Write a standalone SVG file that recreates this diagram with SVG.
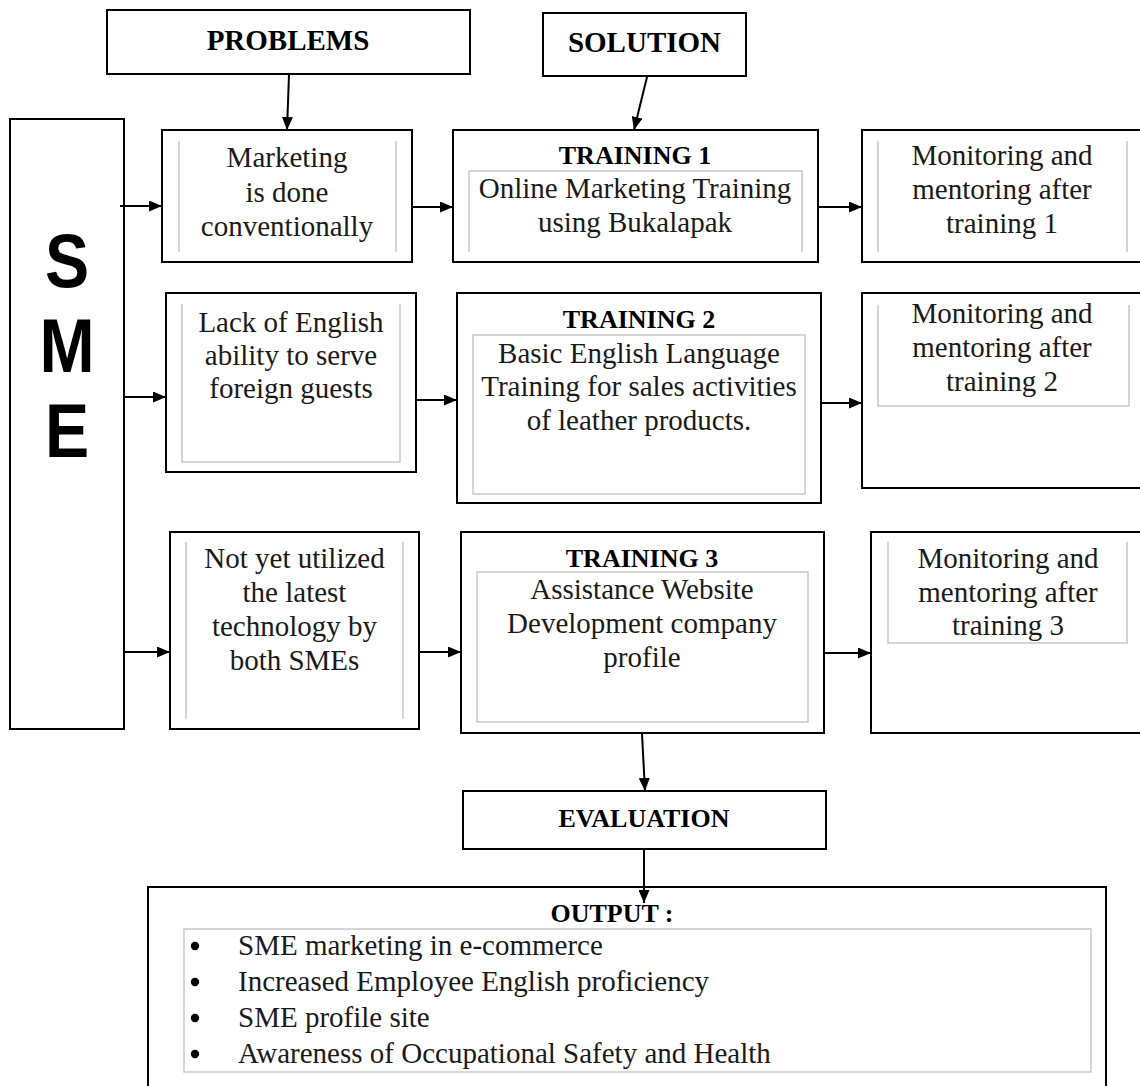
<svg xmlns="http://www.w3.org/2000/svg" width="1140" height="1086" viewBox="0 0 1140 1086">
<style>
.box{fill:#fff;stroke:#000;stroke-width:2}
.inner{fill:none;stroke:#c8c8c8;stroke-width:1.5}
.t{font-family:"Liberation Serif","Times New Roman",serif;font-size:29px;text-anchor:middle;fill:#1a1a1a}
.h{font-weight:bold;font-size:26px;fill:#000}
.hb{font-weight:bold;font-size:29px;fill:#000}
.li{text-anchor:start}
.dot{fill:#000}
.sme{font-family:"Liberation Sans",Arial,sans-serif;font-weight:bold;font-size:76px;text-anchor:middle;fill:#000}
.conn{stroke:#000;stroke-width:2;fill:none;marker-end:url(#arr)}
</style>
<defs>
<marker id="arr" markerUnits="userSpaceOnUse" markerWidth="13" markerHeight="11" refX="13" refY="5.5" orient="auto">
<path d="M0,0 L13,5.5 L0,11 z" fill="#000"/>
</marker>
</defs>
<rect width="1140" height="1086" fill="#fff"/>

<g id="problems">
<rect class="box" x="107" y="10" width="363" height="64"/>
<text class="t hb" x="288" y="50">PROBLEMS</text>
</g>
<g id="solution">
<rect class="box" x="543" y="13" width="203" height="63"/>
<text class="t hb" x="644.5" y="52">SOLUTION</text>
</g>

<g id="sme">
<rect class="box" x="10" y="119" width="114" height="610"/>
<text class="sme" transform="translate(67,287) scale(0.87,1)">S</text>
<text class="sme" transform="translate(67,372) scale(0.87,1)">M</text>
<text class="sme" transform="translate(67,457) scale(0.87,1)">E</text>
</g>

<g id="problem1">
<rect class="box" x="162" y="130" width="250" height="132"/>
<path class="inner" d="M179,141 V252 M396,141 V252"/>
<text class="t" x="287" y="167">Marketing</text>
<text class="t" x="287" y="202">is done</text>
<text class="t" x="287" y="236">conventionally</text>
</g>
<g id="training1">
<rect class="box" x="453" y="130" width="365" height="132"/>
<path class="inner" d="M469,252 V171 H802 V252"/>
<text class="t h" x="635" y="164">TRAINING 1</text>
<text class="t" x="635" y="198">Online Marketing Training</text>
<text class="t" x="635" y="232">using Bukalapak</text>
</g>
<g id="monitor1">
<rect class="box" x="862" y="130" width="290" height="132"/>
<path class="inner" d="M878,141 V252 M1127,141 V252"/>
<text class="t" x="1002" y="165">Monitoring and</text>
<text class="t" x="1002" y="199">mentoring after</text>
<text class="t" x="1002" y="233">training 1</text>
</g>

<g id="problem2">
<rect class="box" x="166" y="293" width="250" height="179"/>
<path class="inner" d="M182,304 V462 H400 V304"/>
<text class="t" x="291" y="332">Lack of English</text>
<text class="t" x="291" y="365">ability to serve</text>
<text class="t" x="291" y="398">foreign guests</text>
</g>
<g id="training2">
<rect class="box" x="457" y="293" width="364" height="210"/>
<rect class="inner" x="473" y="335" width="332" height="159"/>
<text class="t h" x="639" y="328">TRAINING 2</text>
<text class="t" x="639" y="363">Basic English Language</text>
<text class="t" x="639" y="396">Training for sales activities</text>
<text class="t" x="639" y="430">of leather products.</text>
</g>
<g id="monitor2">
<rect class="box" x="862" y="293" width="290" height="195"/>
<path class="inner" d="M878,305 V406 H1129 V305"/>
<text class="t" x="1002" y="323">Monitoring and</text>
<text class="t" x="1002" y="357">mentoring after</text>
<text class="t" x="1002" y="391">training 2</text>
</g>

<g id="problem3">
<rect class="box" x="170" y="532" width="249" height="197"/>
<path class="inner" d="M186,542 V719 M403,542 V719"/>
<text class="t" x="294.5" y="568">Not yet utilized</text>
<text class="t" x="294.5" y="602">the latest</text>
<text class="t" x="294.5" y="636">technology by</text>
<text class="t" x="294.5" y="670">both SMEs</text>
</g>
<g id="training3">
<rect class="box" x="461" y="532" width="363" height="201"/>
<rect class="inner" x="477" y="572" width="331" height="150"/>
<text class="t h" x="642" y="567">TRAINING 3</text>
<text class="t" x="642" y="599">Assistance Website</text>
<text class="t" x="642" y="633">Development company</text>
<text class="t" x="642" y="667">profile</text>
</g>
<g id="monitor3">
<rect class="box" x="871" y="532" width="281" height="201"/>
<path class="inner" d="M888,542 V643 H1127 V542"/>
<text class="t" x="1008" y="568">Monitoring and</text>
<text class="t" x="1008" y="602">mentoring after</text>
<text class="t" x="1008" y="635">training 3</text>
</g>

<g id="evaluation">
<rect class="box" x="463" y="791" width="363" height="58"/>
<text class="t h" x="644" y="827">EVALUATION</text>
</g>

<g id="output">
<rect class="box" x="148" y="887" width="958" height="210"/>
<rect class="inner" x="184" y="929" width="907" height="143"/>
<text class="t h" x="612" y="922">OUTPUT :</text>
<circle class="dot" cx="195" cy="946" r="4.2"/>
<text class="t li" x="238" y="955">SME marketing in e-commerce</text>
<circle class="dot" cx="195" cy="982" r="4.2"/>
<text class="t li" x="238" y="991">Increased Employee English proficiency</text>
<circle class="dot" cx="195" cy="1018" r="4.2"/>
<text class="t li" x="238" y="1027">SME profile site</text>
<circle class="dot" cx="195" cy="1054" r="4.2"/>
<text class="t li" x="238" y="1063">Awareness of Occupational Safety and Health</text>
</g>

<g id="connectors">
<line class="conn" x1="289" y1="75" x2="287" y2="130"/>
<line class="conn" x1="647" y1="77" x2="634" y2="130"/>
<line class="conn" x1="120" y1="206" x2="162" y2="206"/>
<line class="conn" x1="412" y1="207" x2="453" y2="207"/>
<line class="conn" x1="818" y1="207" x2="862" y2="207"/>
<line class="conn" x1="124" y1="397" x2="166" y2="397"/>
<line class="conn" x1="416" y1="400" x2="457" y2="400"/>
<line class="conn" x1="821" y1="403" x2="862" y2="403"/>
<line class="conn" x1="125" y1="652" x2="170" y2="652"/>
<line class="conn" x1="420" y1="652" x2="461" y2="652"/>
<line class="conn" x1="824" y1="653" x2="871" y2="653"/>
<line class="conn" x1="642" y1="734" x2="645" y2="791"/>
<line class="conn" x1="644" y1="850" x2="644" y2="903"/>
</g>
</svg>
